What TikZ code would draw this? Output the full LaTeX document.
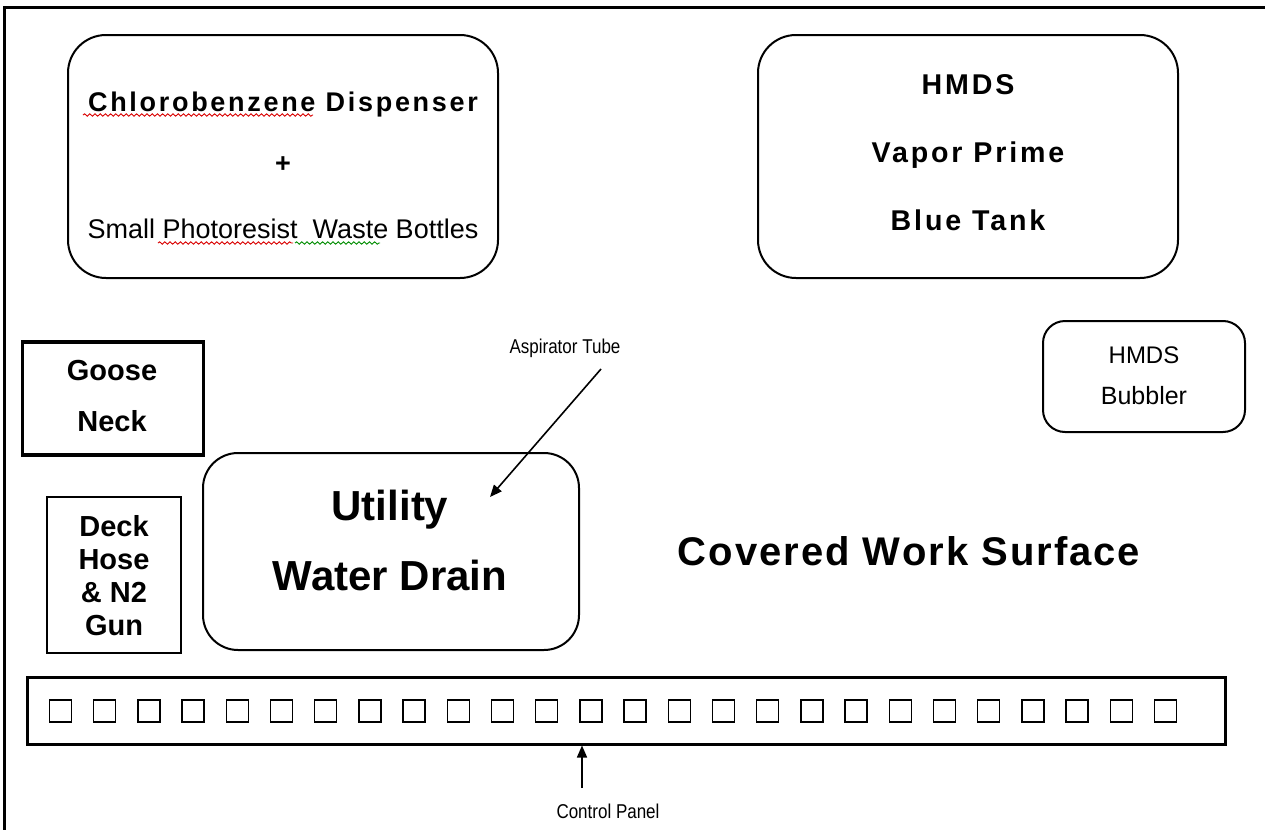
\documentclass[tikz,border=0pt]{standalone}
\usepackage{fontspec}
\setmainfont{Liberation Sans}
\newfontfamily\spacedfont[LetterSpace=10]{Liberation Sans}
\newfontfamily\surfacefont[LetterSpace=5]{Liberation Sans}
\newfontfamily\narrowfont[FakeStretch=0.85]{Liberation Sans}
\usetikzlibrary{arrows.meta,decorations.pathmorphing}

\begin{document}
\begin{tikzpicture}[x=0.5pt,y=-0.5pt,>={Triangle[length=6pt,width=5pt]},
  roundbox/.style={draw,line width=1pt,inner sep=0pt},
  txt/.style={inner sep=0pt,anchor=base},
  spell/.style={line width=0.45pt,decorate,decoration={snake,amplitude=0.6pt,segment length=2.6pt}}]
\useasboundingbox (0,0) rectangle (1265,830);
% page frame (runs off right and bottom)
\draw[line width=1.5pt] (4,830) -- (4,7) -- (1265,7);

% top row
\node[roundbox,rounded corners=19pt,minimum width=215pt,minimum height=121.5pt] (chlbox) at (283,156.5) {};
\node[txt,font=\spacedfont\bfseries\fontsize{13.5pt}{16pt}\selectfont] (chl) at (283,111) {Chlorobenzene Dispenser};
\node[inner sep=0pt,font=\bfseries\fontsize{13.5pt}{16pt}\selectfont] (plus) at (283,165) {+};
\node[txt,font=\fontsize{13.5pt}{16pt}\selectfont] (waste) at (283,238) {Small Photoresist\ \ Waste Bottles};
\draw[spell,red!85!black] (83,115) -- (313,115);
\draw[spell,red!85!black] (158,243) -- (293,243);
\draw[spell,green!55!black] (295,243) -- (380,243);

\node[roundbox,rounded corners=19pt,minimum width=210pt,minimum height=121.5pt] (hmdsbox) at (968,156.5) {};
\node[txt,font=\spacedfont\bfseries\fontsize{14.3pt}{17pt}\selectfont] (hmds) at (968,94) {HMDS};
\node[txt,font=\spacedfont\bfseries\fontsize{14.3pt}{17pt}\selectfont] (vapor) at (968,162) {Vapor Prime};
\node[txt,font=\spacedfont\bfseries\fontsize{14.3pt}{17pt}\selectfont] (tank) at (968,230) {Blue Tank};

% middle
\node[roundbox,rounded corners=11pt,minimum width=101pt,minimum height=55.5pt] (bubbox) at (1144,376.5) {};
\node[txt,font=\fontsize{12pt}{14pt}\selectfont] (bubhmds) at (1144,363) {HMDS};
\node[txt,font=\fontsize{12.5pt}{14pt}\selectfont] (bubbler) at (1144,404) {Bubbler};

\node[draw,line width=1.6pt,inner sep=0pt,minimum width=90.5pt,minimum height=56.5pt] (goosebox) at (113,398.5) {};
\node[txt,font=\bfseries\fontsize{14.5pt}{17pt}\selectfont] (goose) at (112,380) {Goose};
\node[txt,font=\bfseries\fontsize{14.5pt}{17pt}\selectfont] (neck) at (112,431) {Neck};

\node[draw,line width=1pt,inner sep=0pt,minimum width=67pt,minimum height=78pt] (deckbox) at (114,575) {};
\node[txt,font=\bfseries\fontsize{14.5pt}{17pt}\selectfont] (deck) at (114,536) {Deck};
\node[txt,font=\bfseries\fontsize{14.5pt}{17pt}\selectfont] (hose) at (114,569) {Hose};
\node[txt,font=\bfseries\fontsize{14.5pt}{17pt}\selectfont] (ntwo) at (114,602) {\& N2};
\node[txt,font=\bfseries\fontsize{14.5pt}{17pt}\selectfont] (gun) at (114,635) {Gun};

\node[roundbox,rounded corners=17.5pt,minimum width=188pt,minimum height=98.5pt] (drainbox) at (391,551.5) {};
\node[txt,font=\bfseries\fontsize{21pt}{24pt}\selectfont] (utility) at (390,520) {Utility};
\node[txt,font=\bfseries\fontsize{21pt}{24pt}\selectfont] (drain) at (390,590) {Water Drain};

\node[txt,font=\narrowfont\fontsize{10pt}{12pt}\selectfont] (asp) at (565,353) {Aspirator Tube};
\coordinate (asptail) at (601,369);
\coordinate (asptip) at (490,497);
\draw[->,line width=0.8pt] (asptail) -- (asptip);

\node[txt,font=\surfacefont\bfseries\fontsize{20pt}{24pt}\selectfont] (surface) at (909,565) {Covered Work Surface};

% control panel
\node[draw,line width=1.5pt,inner sep=0pt,minimum width=599pt,minimum height=33.5pt] (panel) at (626,710.5) {};
\foreach \i in {0,...,25}
  \node[draw,line width=0.7pt,inner sep=0pt,minimum size=11pt] (btn\i) at (60.5+44.2*\i,711) {};
\node[txt,font=\narrowfont\fontsize{10pt}{12pt}\selectfont] (cplabel) at (608,818) {Control Panel};
\coordinate (cptail) at (582,788);
\draw[->,line width=0.8pt] (cptail) -- (cptail |- panel.south);
\end{tikzpicture}
\end{document}
